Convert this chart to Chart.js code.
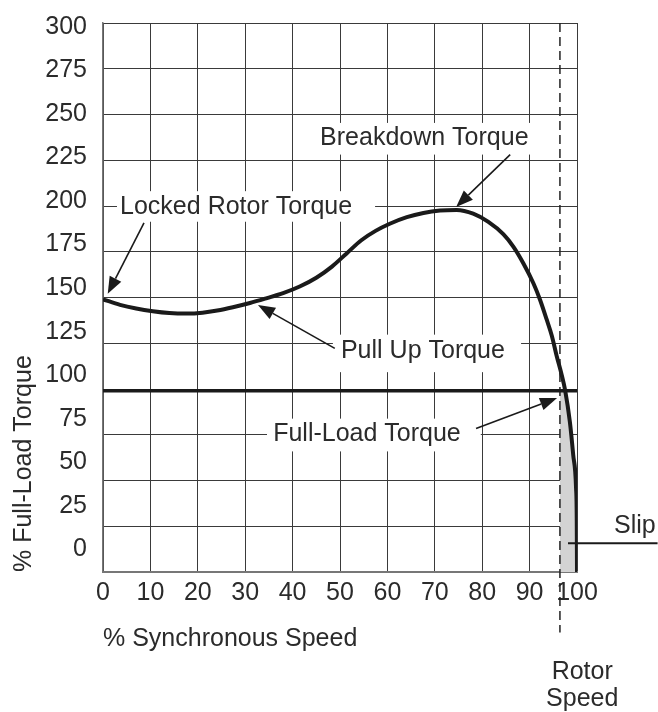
<!DOCTYPE html>
<html><head><meta charset="utf-8">
<script src="https://cdn.jsdelivr.net/npm/chart.js@4.4.1/dist/chart.umd.min.js"></script>
<style>html,body{margin:0;padding:0;background:#fff;}#wrap{width:658px;height:712px;}</style>
</head><body><div id="wrap"><canvas id="c" width="658" height="712"></canvas></div>
<script>
// ---- data ----
const speedPct  = [0, 3.6, 7, 10.5, 14, 17.7, 21, 24.1, 27.4, 31, 34.6, 38, 41.5, 45, 48.3, 51.4, 54.5, 57.5, 60.5, 64.1, 67.6, 71.1, 74.6, 78.1, 81.3, 84.5, 86.6, 88.7, 90.8, 92.2, 93.6, 94.7, 95.7, 96.8, 97.5, 98.5, 99.2, 99.8, 99.95, 100];
const torquePct = [149, 146, 144, 142.5, 141.5, 141.2, 141.7, 142.9, 144.7, 147, 149.7, 152.4, 156, 160.8, 166.9, 174.1, 181.3, 186.4, 190.3, 193.9, 196.2, 197.5, 197.8, 195.8, 191.3, 184.5, 177.7, 168.6, 157.8, 148.8, 138, 129, 118.2, 107.4, 99.3, 82, 64, 46, 28, 0];
const xTicks = [0, 10, 20, 30, 40, 50, 60, 70, 80, 90, 100];
const yTicks = [0, 25, 50, 75, 100, 125, 150, 175, 200, 225, 250, 275, 300];
const fullLoadTorque = 99;
const rotorSpeed = 96.4;
const slipLeaderX = [98.1, 117];
const slipLeaderY = 15.7;
const rotorLineY = [300, -33];

const FONT = '"Liberation Sans", Arial, Helvetica, sans-serif';
const TXT = '#2b2b2b';
const FS = 25;

const notes = [
  {text: 'Locked Rotor Torque', x: 3.6, y: 199.5, box: [2.95, 208.1, 57.4, 191.4], from: [8.65, 190.8], to: [1.0, 152]},
  {text: 'Breakdown Torque', x: 45.8, y: 237.3, box: [43.7, 245.4, 92.2, 228.1], from: [85.9, 228.1], to: [74.5, 199.5]},
  {text: 'Pull Up Torque', x: 50.2, y: 120.5, box: [48.5, 129.7, 88.2, 109.2], from: [48.9, 122.2], to: [32.7, 145.9]},
  {text: 'Full-Load Torque', x: 35.9, y: 75.1, box: [34.6, 83.8, 79.7, 65.9], from: [78.7, 78.4], to: [95.8, 95.1]},
  {text: 'Slip', x: 107.8, y: 25},
  {text: 'Rotor', x: 101.1, y: -54.6, center: true},
  {text: 'Speed', x: 101.1, y: -69.2, center: true}
];

const curvePts = speedPct.map((s, i) => ({x: s, y: torquePct[i]}));
const slipPts = [{x: rotorSpeed, y: fullLoadTorque}]
  .concat(curvePts.filter(p => p.y <= fullLoadTorque + 0.5).map(p => ({x: p.x, y: Math.min(p.y, fullLoadTorque)})))
  .concat([{x: rotorSpeed, y: 0}]);

function drawArrow(ctx, x0, y0, x1, y1) {
  const ang = Math.atan2(y1 - y0, x1 - x0);
  const L = 17, W = 6.5;
  const bx = x1 - L * Math.cos(ang), by = y1 - L * Math.sin(ang);
  ctx.beginPath(); ctx.moveTo(x0, y0); ctx.lineTo(bx, by); ctx.stroke();
  ctx.beginPath();
  ctx.moveTo(x1, y1);
  ctx.lineTo(bx + W * Math.sin(ang), by - W * Math.cos(ang));
  ctx.lineTo(bx - W * Math.sin(ang), by + W * Math.cos(ang));
  ctx.closePath(); ctx.fill();
}

const notePlugin = {
  id: 'notes',
  beforeDatasetsDraw(chart) {
    const {ctx, scales: {x, y}} = chart;
    ctx.save(); ctx.fillStyle = '#fff';
    notes.forEach(n => {
      if (!n.box) return;
      const px0 = x.getPixelForValue(n.box[0]), px1 = x.getPixelForValue(n.box[2]);
      const py0 = y.getPixelForValue(n.box[1]), py1 = y.getPixelForValue(n.box[3]);
      ctx.fillRect(px0, py0, px1 - px0, py1 - py0);
    });
    ctx.restore();
  },
  afterDatasetsDraw(chart) {
    const {ctx, scales: {x, y}} = chart;
    ctx.save();
    ctx.font = FS + 'px ' + FONT;
    ctx.strokeStyle = '#1a1a1a'; ctx.lineWidth = 1.6;
    ctx.textBaseline = 'middle';
    notes.forEach(n => {
      ctx.textAlign = n.center ? 'center' : 'left';
      ctx.fillStyle = TXT;
      ctx.fillText(n.text, x.getPixelForValue(n.x), y.getPixelForValue(n.y));
      if (n.from) {
        ctx.fillStyle = '#1a1a1a';
        drawArrow(ctx, x.getPixelForValue(n.from[0]), y.getPixelForValue(n.from[1]),
                       x.getPixelForValue(n.to[0]), y.getPixelForValue(n.to[1]));
      }
    });
    ctx.restore();
  }
};

const tickFont = {family: FONT, size: FS};

new Chart(document.getElementById('c'), {
  type: 'line',
  data: {
    datasets: [
      {data: curvePts, borderColor: '#1a1a1a', borderWidth: 4, cubicInterpolationMode: 'monotone', pointRadius: 0, fill: false, xAxisID: 'x', yAxisID: 'y'},
      {data: [{x: 0, y: fullLoadTorque}, {x: 100, y: fullLoadTorque}], borderColor: '#1a1a1a', borderWidth: 3.5, pointRadius: 0, fill: false, xAxisID: 'x', yAxisID: 'y'},
      {data: rotorLineY.map(v => ({x: rotorSpeed, y: v})), borderColor: '#222', borderWidth: 1.5, borderDash: [9, 5], pointRadius: 0, fill: false, clip: false, xAxisID: 'x', yAxisID: 'y'},
      {data: slipLeaderX.map(v => ({x: v, y: slipLeaderY})), borderColor: '#1a1a1a', borderWidth: 2, pointRadius: 0, fill: false, clip: false, xAxisID: 'x', yAxisID: 'y'},
      {data: slipPts, borderWidth: 0, borderColor: 'rgba(0,0,0,0)', backgroundColor: '#d3d3d3', fill: 'shape', tension: 0, pointRadius: 0, xAxisID: 'x', yAxisID: 'y'}
    ]
  },
  options: {
    responsive: false,
    animation: false,
    devicePixelRatio: 1,
    layout: {padding: {left: 0, right: 81, top: 17, bottom: 0}, autoPadding: false},
    plugins: {legend: {display: false}, tooltip: {enabled: false}},
    scales: {
      x: {
        type: 'linear', position: 'bottom', min: 0, max: 100,
        afterBuildTicks: a => { a.ticks = xTicks.map(v => ({value: v})); },
        afterFit: a => { a.height = 140; },
        grid: {color: '#3a3a3a', lineWidth: 1, drawTicks: false},
        border: {display: true, color: '#777', width: 2},
        ticks: {font: tickFont, color: TXT, padding: 6, maxRotation: 0, autoSkip: false},
        title: {display: true, text: '% Synchronous Speed', align: 'start', color: TXT, font: tickFont, padding: {top: 0, bottom: 58}}
      },
      y: {
        type: 'linear', position: 'left', min: 0, max: 300,
        afterBuildTicks: a => { a.ticks = yTicks.map(v => ({value: v})); },
        afterFit: a => { a.width = 0; },
        grid: {color: '#3a3a3a', lineWidth: 1, drawTicks: false},
        border: {display: false},
        ticks: {display: false}
      },
      yl: {
        type: 'linear', axis: 'y', position: 'left', min: -13.07, max: 302.27,
        afterBuildTicks: a => { a.ticks = yTicks.map(v => ({value: v})); },
        afterFit: a => { a.width = 103; },
        grid: {display: false},
        border: {display: true, color: '#777', width: 1.5},
        ticks: {font: tickFont, color: TXT, padding: 8, autoSkip: false},
        title: {display: true, text: '% Full-Load Torque', align: 'start', color: TXT, font: tickFont, padding: {top: 9, bottom: 0}}
      }
    }
  },
  plugins: [notePlugin]
});
</script>
</body></html>
